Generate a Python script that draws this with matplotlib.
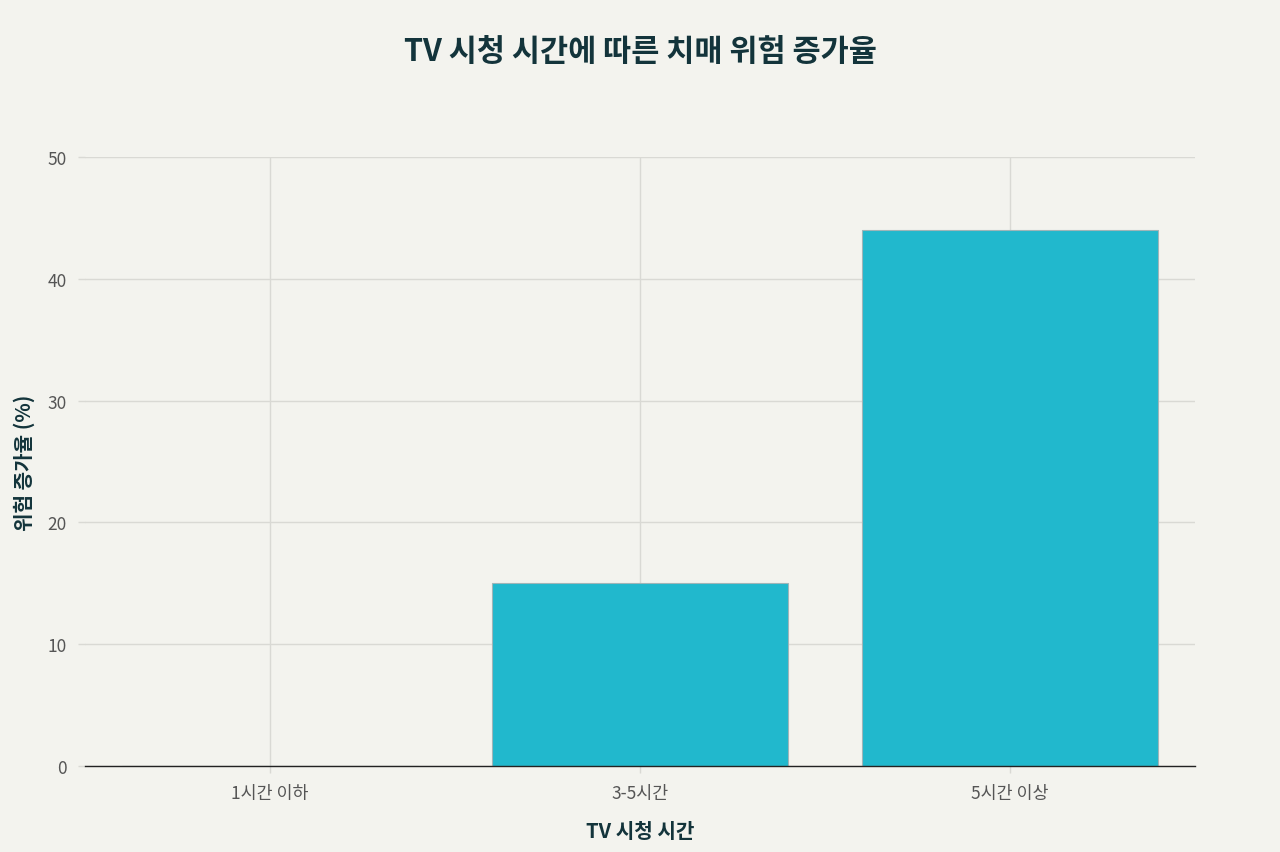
import matplotlib.pyplot as plt
import numpy as np

plt.rcParams['font.family'] = ['Noto Sans CJK KR', 'DejaVu Sans']

categories = ['1시간 이하', '3-5시간', '5시간 이상']
risk_increase = [0, 15, 44]
y_ticks = [0, 10, 20, 30, 40, 50]

bg = '#F3F3EE'
bar_color = '#21B8CD'
text_dark = '#13343B'
grid_color = '#D9D9D4'

fig = plt.figure(figsize=(12.8, 8.53), dpi=100, facecolor=bg)
ax = fig.add_axes([0.0664, 0.1008, 0.8672, 0.714])
ax.set_facecolor(bg)

x = np.arange(len(categories))
ax.bar(x, risk_increase, width=0.8, color=bar_color, edgecolor='#9FB5B8',
       linewidth=0.8, zorder=3)

ax.set_xlim(-0.5, len(categories) - 0.5)
ax.set_ylim(0, 50)
ax.set_yticks(y_ticks)
ax.set_xticks(x)
ax.set_xticklabels(categories)

ax.grid(True, color=grid_color, linewidth=1, zorder=0)
for s in ['top', 'right', 'left']:
    ax.spines[s].set_visible(False)
ax.spines['bottom'].set_color('#222222')
ax.spines['bottom'].set_linewidth(1)
ax.spines['bottom'].set_zorder(4)

ax.tick_params(axis='both', colors=grid_color, labelcolor='#555555',
               labelsize=12.5, length=5, width=1)
ax.tick_params(axis='y', pad=8)
ax.tick_params(axis='x', pad=8)

ax.set_xlabel('TV 시청 시간', fontsize=14.5, fontweight='bold', color=text_dark,
              labelpad=13)
ax.set_ylabel('위험 증가율 (%)', fontsize=14.5, fontweight='bold', color=text_dark,
              labelpad=9)
fig.suptitle('TV 시청 시간에 따른 치매 위험 증가율', fontsize=22,
             fontweight='bold', color=text_dark, y=0.939, va='center')

fig.savefig('out.png', dpi=100, facecolor=bg)
